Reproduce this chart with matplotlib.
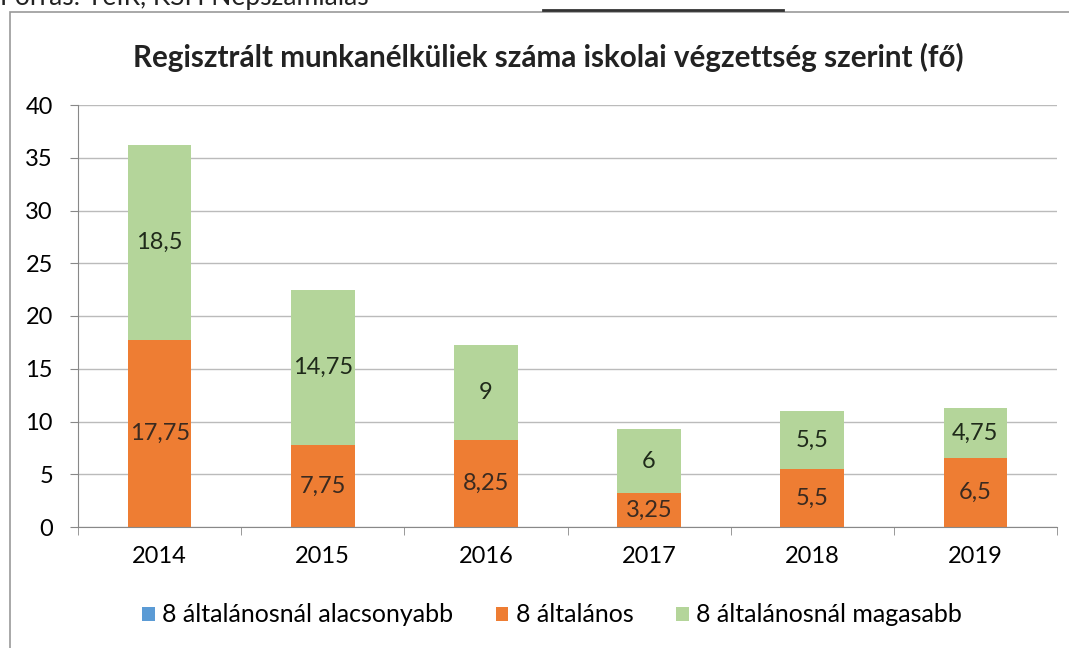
import matplotlib
matplotlib.use("Agg")
import matplotlib.pyplot as plt
from matplotlib.patches import Rectangle
from matplotlib.lines import Line2D
import numpy as np

years = ["2014", "2015", "2016", "2017", "2018", "2019"]
lower = [0, 0, 0, 0, 0, 0]
elem = [17.75, 7.75, 8.25, 3.25, 5.5, 6.5]
higher = [18.5, 14.75, 9, 6, 5.5, 4.75]
elem_labels = ["17,75", "7,75", "8,25", "3,25", "5,5", "6,5"]
higher_labels = ["18,5", "14,75", "9", "6", "5,5", "4,75"]
series_names = ["8 általánosnál alacsonyabb", "8 általános", "8 általánosnál magasabb"]
title = "Regisztrált munkanélküliek száma iskolai végzettség szerint (fő)"
source = "Forrás: TeIR, KSH Népszámlálás"

plt.rcParams['font.family'] = ['Lato', 'DejaVu Sans']

W, H = 1069, 648
fig = plt.figure(figsize=(W / 100, H / 100), dpi=100)

ax = fig.add_axes([78 / W, 1 - 527 / H, (1057 - 78) / W, (527 - 105) / H])

x = np.arange(len(years))
bw = 0.39
c_blue = "#5B9BD5"
c_orange = "#EE7D33"
c_green = "#B4D59A"

b0 = ax.bar(x, lower, bw, color=c_blue, label=series_names[0])
b1 = ax.bar(x, elem, bw, bottom=lower, color=c_orange, label=series_names[1])
bottom2 = [a + b for a, b in zip(lower, elem)]
b2 = ax.bar(x, higher, bw, bottom=bottom2, color=c_green, label=series_names[2])

for i in range(len(years)):
    ax.text(x[i], lower[i] + elem[i] / 2, elem_labels[i], ha="center", va="center",
            fontsize=17, color="#3a2a20")
    ax.text(x[i], bottom2[i] + higher[i] / 2, higher_labels[i], ha="center", va="center",
            fontsize=17, color="#1f2a1a")

ax.set_xlim(-0.5, len(years) - 0.5)
ax.set_ylim(0, 40)
ax.set_yticks(range(0, 41, 5))
ax.set_xticks(x)
ax.set_xticklabels(years)
ax.tick_params(axis="y", labelsize=17, length=6, color="#888888", pad=12)
ax.tick_params(axis="x", labelsize=17, length=0, pad=14)
ax.set_xticks(np.arange(-0.5, len(years), 1), minor=True)
ax.tick_params(axis="x", which="minor", length=6, color="#888888")
ax.grid(axis="y", color="#bbbbbb", linewidth=1)
ax.set_axisbelow(True)
for s in ["top", "right"]:
    ax.spines[s].set_visible(False)
ax.spines["left"].set_color("#888888")
ax.spines["bottom"].set_color("#888888")

fig.text(548 / W, 1 - 57 / H, title, ha="center", va="center", fontsize=21.3,
         fontweight="bold", color="#222222")

leg = fig.legend(handles=[b0, b1, b2], labels=series_names, loc="center",
                 bbox_to_anchor=(552 / W, 1 - 615 / H), ncol=3, frameon=False,
                 fontsize=18, handlelength=0.5, handleheight=0.5, handletextpad=0.3,
                 columnspacing=1.7)

# source text, cut off at top as in the scan
fig.text(0, 1 - (-3) / H, source, ha="left", va="center", fontsize=19, color="#222222")

# outer frame
fig.add_artist(Rectangle((10 / W, -0.01), 1.1, 1 - 12 / H + 0.01, transform=fig.transFigure,
                         fill=False, edgecolor="#999999", linewidth=1.2))
fig.add_artist(Line2D([543 / W, 783 / W], [1 - 10 / H, 1 - 10 / H], transform=fig.transFigure,
                      color="#333333", linewidth=2))

fig.savefig("out.png", dpi=100)
